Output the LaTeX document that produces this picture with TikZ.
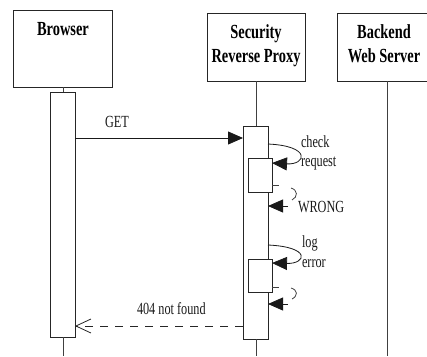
\documentclass[tikz,border=0pt]{standalone}
\usepackage{fontspec}
\setmainfont{Liberation Serif}
\newfontfamily\headfont[FakeStretch=0.72]{Liberation Serif}
\newfontfamily\labfont[FakeStretch=0.72]{Liberation Serif}
\usetikzlibrary{arrows.meta}

\begin{document}
\begin{tikzpicture}[x=1pt,y=-1pt,
  line width=0.8pt,
  every node/.style={outer sep=0pt, inner sep=0pt},
  lane/.style={draw=black!85, fill=white, anchor=north west},
  headtext/.style={font=\headfont\bfseries\fontsize{20}{25}\selectfont, anchor=base, text=black},
  msgtext/.style={font=\labfont\fontsize{17}{18}\selectfont, anchor=base west, text=black!90},
  life/.style={draw=black!75},
  callarrow/.style={draw=black!90, -{Triangle[length=15pt,width=13pt]}},
  loopline/.style={draw=black!75},
  replyarrow/.style={draw=black!85, dash pattern=on 8pt off 7pt, -{Straight Barb[length=15pt,width=14pt,line width=0.8pt]}}
]
\useasboundingbox (0,0) rectangle (427,356);

% participant boxes
\node[lane, minimum width=99pt, minimum height=77pt] (brbox) at (13,10) {};
\node[lane, minimum width=98pt, minimum height=68pt] (pxbox) at (207,13) {};
\node[lane, minimum width=91pt, minimum height=68pt] (bebox) at (337,13) {};

\node[headtext] (brname) at (63,35) {Browser};
\node[headtext] (pxname1) at (256,38) {Security};
\node[headtext] (pxname2) at (256,62) {Reverse Proxy};
\node[headtext] (bename1) at (384,38) {Backend};
\node[headtext] (bename2) at (384,62) {Web Server};

% lifeline ends
\coordinate (brend) at (63,356);
\coordinate (pxend) at (256,356);
\coordinate (beend) at (387,356);

% activation bars
\node[lane, minimum width=25pt, minimum height=245pt] (bract) at (50,92) {};
\node[lane, minimum width=25pt, minimum height=213pt] (pxact) at (243,126) {};

\draw[life] (brbox.south -| 63,0) -- (bract.north -| 63,0);
\draw[life] (bract.south -| 63,0) -- (brend);
\draw[life] (pxbox.south -| 256,0) -- (pxact.north -| 256,0);
\draw[life] (pxact.south -| 256,0) -- (pxend);
\draw[life] (bebox.south -| 387,0) -- (beend);

% nested activations
\node[lane, minimum width=24pt, minimum height=34pt] (chk) at (248,158) {};
\node[lane, minimum width=24pt, minimum height=33pt] (logb) at (248,259) {};

% GET request
\draw[callarrow] (bract.east |- 0,138) -- (pxact.west |- 0,138);
\node[msgtext] (getl) at (105,127) {GET};

% check request self call
\coordinate (c1) at (268,144);
\draw[callarrow] (c1) .. controls (312,146) and (306,165) .. (chk.east |- 0,163);
\node[msgtext] (chkl1) at (301,147) {check};
\node[msgtext] (chkl2) at (301,166) {request};

% return from check
\coordinate (r1a) at (272,185);
\coordinate (r1b) at (279,185);
\draw[loopline] (r1a) -- (r1b);
\coordinate (r1c) at (291,188);
\coordinate (r1d) at (292,200);
\draw[loopline] (r1c) .. controls (298,190) and (298,197) .. (r1d);
\coordinate (r1e) at (288,206);
\draw[callarrow] (r1e) -- (pxact.east |- 0,206);
\node[msgtext] (wrongl) at (298,212) {WRONG};

% log error self call
\coordinate (c2) at (268,245);
\draw[callarrow] (c2) .. controls (312,247) and (306,264) .. (logb.east |- 0,263);
\node[msgtext] (logl1) at (302,247) {log};
\node[msgtext] (logl2) at (302,267) {error};

% return from log
\coordinate (r2a) at (272,287);
\coordinate (r2b) at (279,287);
\draw[loopline] (r2a) -- (r2b);
\coordinate (r2c) at (291,288);
\coordinate (r2d) at (292,299);
\draw[loopline] (r2c) .. controls (298,290) and (298,296) .. (r2d);
\coordinate (r2e) at (288,304);
\draw[callarrow] (r2e) -- (pxact.east |- 0,304);

% 404 reply
\draw[replyarrow] (pxact.west |- 0,326) -- (bract.east |- 0,326);
\node[msgtext] (nfl) at (137,314) {404 not found};
\end{tikzpicture}
\end{document}
